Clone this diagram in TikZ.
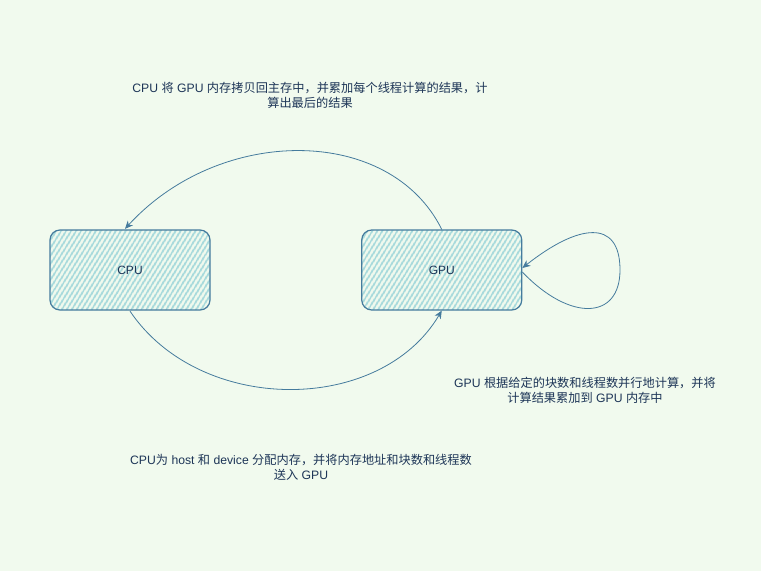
\documentclass[tikz,border=0pt]{standalone}
\usepackage{fontspec}
\setmainfont{Liberation Sans}
\newfontfamily\cjk{Noto Sans CJK SC}
\usepackage{tikz}
\usetikzlibrary{arrows.meta,patterns.meta}
\usetikzlibrary{positioning}
\definecolor{bgcol}{HTML}{F1FAEE}
\definecolor{edgecol}{HTML}{457B9D}
\definecolor{hatchcol}{HTML}{A8DADC}
\definecolor{textcol}{HTML}{1D3557}
\tikzstyle{unit} = [rectangle, rounded corners=10pt, minimum width=160pt, minimum height=80pt, text centered, draw=edgecol, line width=1.2pt, pattern={Lines[angle=58,distance=4pt,line width=2.3pt]}, pattern color=hatchcol, text=textcol, font=\fontsize{12}{15}\selectfont]
\tikzstyle{note} = [align=center, text=textcol, font=\fontsize{12.2}{15}\selectfont]
\tikzstyle{flow} = [draw=edgecol, line width=0.8pt, -{Stealth[length=8pt,width=7pt,inset=2.5pt]}]

\begin{document}
\begin{tikzpicture}[x=1pt, y=1pt, node distance=150pt]
  \fill[bgcol] (0,0) rectangle (761,-571);
  \useasboundingbox (0,0) rectangle (761,-571);

  \node (cpu) [unit] at (130,-270) {CPU};
  \node (gpu) [unit, right=of cpu] {GPU};

  \node (copyback) [note] at (310,-95.5) {CPU {\cjk 将} GPU {\cjk 内存拷贝回主存中，并累加每个线程计算的结果，计}\\{\cjk 算出最后的结果}};
  \node (compute) [note] at (585,-390.5) {GPU {\cjk 根据给定的块数和线程数并行地计算，并将}\\{\cjk 计算结果累加到} GPU {\cjk 内存中}};
  \node (alloc) [note] at (301,-467.5) {CPU{\cjk 为} host {\cjk 和} device {\cjk 分配内存，并将内存地址和块数和线程数}\\{\cjk 送入} GPU};

  \coordinate (loopfar) at (620,-270);
  \draw [flow] (gpu.north) .. controls (390,-125) and (220,-125) .. ([xshift=-5pt]cpu.north);
  \draw [flow] (cpu.south) .. controls (200,-415) and (380,-415) .. (gpu.south);
  \draw [flow] ([yshift=-2pt]gpu.east) .. controls (570,-322) and (620,-320) .. (loopfar) .. controls (620,-218) and (578,-224) .. ([yshift=2pt]gpu.east);
\end{tikzpicture}
\end{document}
